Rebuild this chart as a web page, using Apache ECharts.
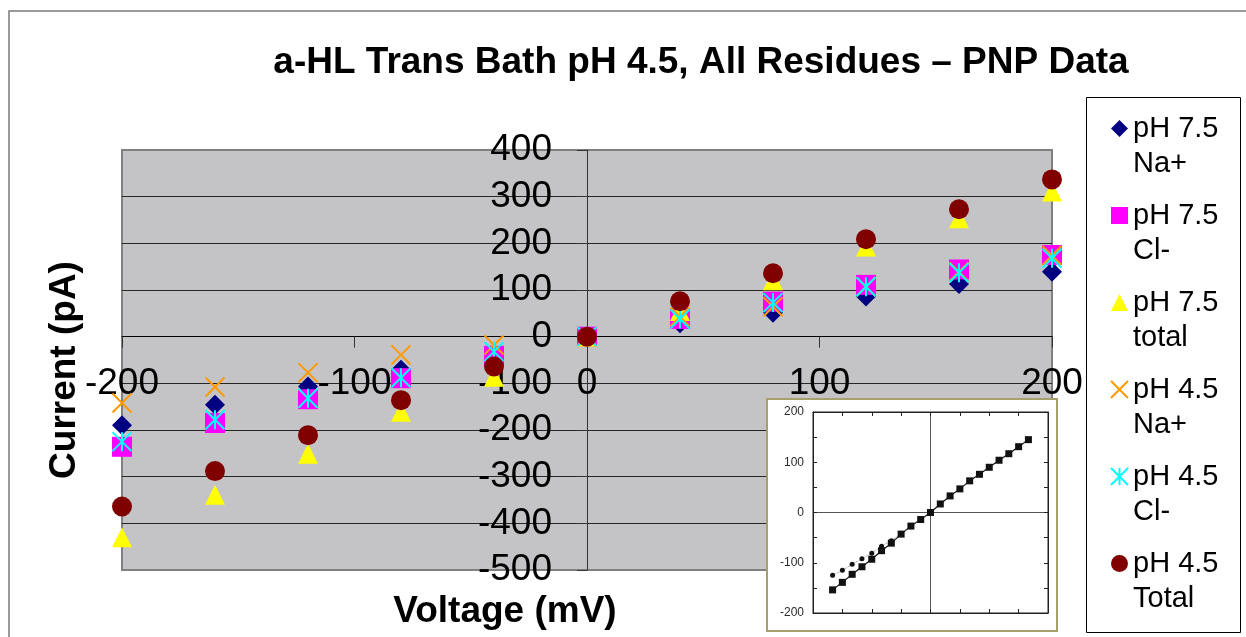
<!DOCTYPE html>
<html>
<head>
<meta charset="utf-8">
<title>a-HL Trans Bath pH 4.5, All Residues – PNP Data</title>
<script src="https://cdn.jsdelivr.net/npm/echarts@6/dist/echarts.min.js"></script>
<style>
  html, body { margin: 0; padding: 0; background: #ffffff; }
  #chart { width: 1246px; height: 637px; }
</style>
</head>
<body>
<div id="chart"></div>
<script>
// Applied voltage (mV) for the PNP model currents
const voltage = [-200, -160, -120, -80, -40, 0, 40, 80, 120, 160, 200];

// Model currents (pA)
const ph75Na    = [-190, -146, -107, -71, -38, 0, 29, 51, 86, 113, 139];
const ph75Cl    = [-236, -185, -134, -89, -41, 0, 38, 75, 111, 144, 175];
const ph75Total = [-430, -339, -251, -161, -86, 0, 55, 121, 193, 254, 311];
const ph45Na    = [-142, -108, -77, -39, -18, 0, 43, 64, 107, 139, 174];
const ph45Cl    = [-225, -178, -132, -88, -32, 0, 38, 73, 107, 137, 168];
const ph45Total = [-364, -288, -211, -136, -64, 0, 76, 136, 209, 273, 337];

// Experimental I-V curve shown in the inset
const insetVoltage = [-200, -180, -160, -140, -120, -100, -80, -60, -40, -20, 0,
                      20, 40, 60, 80, 100, 120, 140, 160, 180, 200];
const insetSquares = [-154, -139, -123, -108, -93, -76, -61, -43, -27, -14, 0,
                      17, 33, 47, 63, 76, 90, 104, 117, 131, 145];
const insetDotVoltage = [-200, -180, -160, -140, -120, -100, -80, -60, -40, -20, 0];
const insetDots = [-125, -115, -103, -92, -81, -67, -56, -42, -27, -13, 0];

// Axis tick labels
const mainXTicks = [-200, -100, 0, 100, 200];
const mainYTicks = [-500, -400, -300, -200, -100, 0, 100, 200, 300, 400];
const insetYTicks = [-200, -100, 0, 100, 200];

const FONT = '"Liberation Sans", Arial, Helvetica, sans-serif';

// main plot box
const PLOT = { left: 122, top: 150, width: 930, height: 420 };

const pairs = (xs, ys) => xs.map((x, i) => [x, ys[i]]);

// axes cross at the origin: shift them from the plot edges to the zero lines
const xMin = mainXTicks[0], xMax = mainXTicks[mainXTicks.length - 1];
const yMin = mainYTicks[0], yMax = mainYTicks[mainYTicks.length - 1];
const xAxisOffset = -PLOT.height * (0 - yMin) / (yMax - yMin);
const yAxisOffset = -PLOT.width * (0 - xMin) / (xMax - xMin);

const CROSS = 'path://M0,0L20,20M20,0L0,20';
const STAR = 'path://M0,0L20,20M20,0L0,20M10,0L10,20';

const mainSeries = [
  { name: 'pH 7.5 Na+',   values: ph75Na,    symbol: 'diamond',  size: 20, style: { color: '#000080' } },
  { name: 'pH 7.5 Cl-',   values: ph75Cl,    symbol: 'rect',     size: 20, style: { color: '#ff00ff' } },
  { name: 'pH 7.5 total', values: ph75Total, symbol: 'triangle', size: 20, style: { color: '#ffff00' } },
  { name: 'pH 4.5 Na+',   values: ph45Na,    symbol: CROSS,      size: 19, style: { color: 'rgba(0,0,0,0)', borderColor: '#ff9900', borderWidth: 2 } },
  { name: 'pH 4.5 Cl-',   values: ph45Cl,    symbol: STAR,       size: 19, style: { color: 'rgba(0,0,0,0)', borderColor: '#00ffff', borderWidth: 2 } },
  { name: 'pH 4.5 Total', values: ph45Total, symbol: 'circle',   size: 20, style: { color: '#800000' } }
].map(s => ({
  name: s.name,
  type: 'scatter',
  xAxisIndex: 0,
  yAxisIndex: 0,
  symbol: s.symbol,
  symbolSize: s.size,
  itemStyle: Object.assign({ opacity: 1 }, s.style),
  emphasis: { disabled: true },
  data: pairs(voltage, s.values)
}));

const chart = echarts.init(document.getElementById('chart'), null, { renderer: 'canvas' });

chart.setOption({
  animation: false,
  backgroundColor: '#ffffff',
  textStyle: { fontFamily: FONT },
  title: {
    text: 'a-HL Trans Bath pH 4.5, All Residues – PNP Data',
    left: 701,
    top: 44,
    padding: 0,
    textAlign: 'center',
    textStyle: { fontFamily: FONT, fontSize: 37, fontWeight: 'bold', color: '#000000' }
  },
  legend: {
    data: mainSeries.map(s => s.name),
    orient: 'vertical',
    left: 1110,
    top: 76,
    padding: 0,
    itemGap: -18,
    itemWidth: 17,
    itemHeight: 17,
    selectedMode: false,
    // an empty leading line keeps the first text line level with the marker
    formatter: name => '\n' + name.replace(/^(pH \d\.\d) /, '$1\n'),
    textStyle: {
      fontFamily: FONT,
      fontSize: 29,
      lineHeight: 35,
      color: '#000000'
    }
  },
  grid: [
    {
      left: PLOT.left, top: PLOT.top, width: PLOT.width, height: PLOT.height,
      show: true,
      backgroundColor: '#c4c4c6',
      borderColor: '#808080',
      borderWidth: 2
    },
    {
      left: 813, right: 198, top: 412, bottom: 24,
      show: true,
      z: 11,
      backgroundColor: '#ffffff',
      borderColor: '#222222',
      borderWidth: 1
    }
  ],
  xAxis: [
    {
      type: 'value', gridIndex: 0, position: 'bottom', offset: xAxisOffset,
      min: xMin, max: xMax, interval: 100,
      axisLine: { onZero: false, lineStyle: { color: '#000000', width: 1 } },
      axisTick: { show: true, length: 11, lineStyle: { color: '#333333' } },
      axisLabel: { fontFamily: FONT, fontSize: 37, color: '#000000', margin: 29 },
      splitLine: { show: false }
    },
    {
      type: 'value', gridIndex: 1, position: 'bottom', z: 12,
      min: -240, max: 240, interval: 60,
      axisLine: { onZero: false, lineStyle: { color: '#222222', width: 1 } },
      axisTick: { inside: true, length: 4, lineStyle: { color: '#222222' } },
      axisLabel: { show: false },
      splitLine: { show: false }
    },
    {
      type: 'value', gridIndex: 1, position: 'top', z: 12,
      min: -240, max: 240, interval: 60,
      axisLine: { onZero: false, lineStyle: { color: '#222222', width: 1 } },
      axisTick: { inside: true, length: 4, lineStyle: { color: '#222222' } },
      axisLabel: { show: false },
      splitLine: { show: false }
    }
  ],
  yAxis: [
    {
      type: 'value', gridIndex: 0, position: 'left', offset: yAxisOffset,
      min: yMin, max: yMax, interval: 100,
      axisLine: { onZero: false, lineStyle: { color: '#333333', width: 1 } },
      axisTick: { show: true, length: 10, lineStyle: { color: '#333333' } },
      axisLabel: { fontFamily: FONT, fontSize: 37, color: '#000000', margin: 35 },
      splitLine: { show: true, showMinLine: false, showMaxLine: false, lineStyle: { color: '#262626', width: 1 } }
    },
    {
      type: 'value', gridIndex: 1, position: 'left', z: 12,
      min: -200, max: 200, interval: 50,
      axisLine: { onZero: false, lineStyle: { color: '#222222', width: 1 } },
      axisTick: { inside: true, length: 4, lineStyle: { color: '#222222' } },
      axisLabel: {
        fontFamily: FONT, fontSize: 12, color: '#2a2a2a', margin: 9,
        formatter: v => (insetYTicks.includes(v) ? String(v) : '')
      },
      splitLine: { show: false }
    },
    {
      type: 'value', gridIndex: 1, position: 'right', z: 12,
      min: -200, max: 200, interval: 50,
      axisLine: { onZero: false, lineStyle: { color: '#222222', width: 1 } },
      axisTick: { inside: true, length: 4, lineStyle: { color: '#222222' } },
      axisLabel: { show: false },
      splitLine: { show: false }
    }
  ],
  graphic: [
    // outer chart frame
    { type: 'rect', z: 1, silent: true,
      shape: { x: 9, y: 11, width: 1300, height: 700 },
      style: { fill: 'none', stroke: '#7a7a7a', lineWidth: 1.5 } },
    // legend frame
    { type: 'rect', z: 1, silent: true,
      shape: { x: 1086.5, y: 97.5, width: 154, height: 535 },
      style: { fill: '#ffffff', stroke: '#000000', lineWidth: 1 } },
    // inset panel
    { type: 'rect', z: 10, silent: true,
      shape: { x: 767, y: 399, width: 290, height: 232 },
      style: { fill: '#ffffff', stroke: '#a89f6c', lineWidth: 2 } },
    // axis titles
    { type: 'text', z: 5, silent: true, x: 505, y: 612,
      style: { text: 'Voltage (mV)', font: 'bold 37px ' + FONT, fill: '#000000', align: 'center', verticalAlign: 'middle' } },
    { type: 'text', z: 5, silent: true, x: 65, y: 370, rotation: Math.PI / 2,
      style: { text: 'Current (pA)', font: 'bold 37px ' + FONT, fill: '#000000', align: 'center', verticalAlign: 'middle' } }
  ],
  series: mainSeries.concat([
    {
      name: 'inset-measured',
      type: 'line',
      xAxisIndex: 1, yAxisIndex: 1, z: 13,
      symbol: 'rect', symbolSize: 7,
      itemStyle: { color: '#111111' },
      lineStyle: { color: '#111111', width: 1.2 },
      emphasis: { disabled: true },
      data: pairs(insetVoltage, insetSquares),
      markLine: {
        silent: true, symbol: 'none', z: 12,
        label: { show: false },
        lineStyle: { color: '#555555', width: 1, type: 'solid' },
        data: [{ xAxis: 0 }, { yAxis: 0 }]
      }
    },
    {
      name: 'inset-dots',
      type: 'line',
      xAxisIndex: 1, yAxisIndex: 1, z: 13,
      symbol: 'circle', symbolSize: 5,
      itemStyle: { color: '#111111' },
      lineStyle: { color: '#666666', width: 0.8, type: 'dotted' },
      emphasis: { disabled: true },
      data: pairs(insetDotVoltage, insetDots)
    }
  ])
});
</script>
</body>
</html>
